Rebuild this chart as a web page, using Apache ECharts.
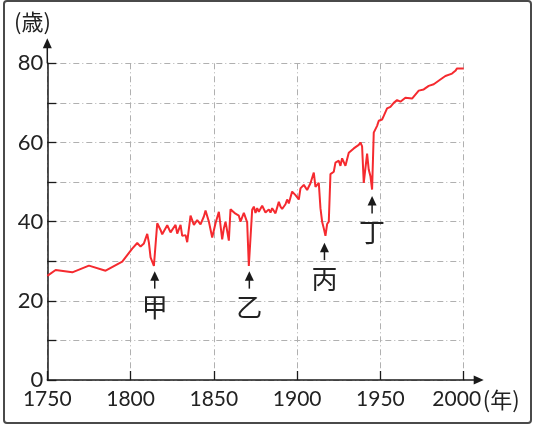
<!DOCTYPE html>
<html>
<head>
<meta charset="utf-8">
<script src="https://cdn.jsdelivr.net/npm/echarts@6/dist/echarts.min.js"></script>
<style>
html,body{margin:0;padding:0;background:#fff;}
#c{width:536px;height:426px;}
</style>
</head>
<body>
<div id="c"></div>
<script>
// ---- data ----
const years = [1750,1755,1765,1775,1785,1795,1801,1804,1806,1808,1810,1811,1812,1814,1816,1818,1819,1822,1824,1827,1828,1830,1831,1833,1834,1836,1838,1840,1842,1844,1845,1847,1849,1851,1853,1855,1856,1857,1859,1860,1863,1865,1866,1868,1870,1871,1873,1874,1875,1876,1877,1879,1881,1883,1884,1885,1887,1889,1890,1891,1893,1894,1895,1897,1899,1901,1902,1904,1906,1908,1910,1911,1913,1914,1915,1916,1917,1918,1919,1920,1922,1923,1925,1926,1927,1929,1931,1932,1934,1937,1938,1939,1940,1942,1943,1944,1945,1946,1948,1949,1951,1952,1954,1956,1958,1960,1962,1965,1969,1970,1973,1976,1979,1982,1986,1989,1993,1995,1996,2000];
const lifeExp = [26.3,27.8,27.2,28.9,27.6,29.9,33.2,34.6,33.7,34.5,36.9,34.7,31.0,28.8,39.6,37.9,36.8,39.1,37.3,39.2,37.0,39.2,36.4,36.6,34.8,41.5,39.2,40.4,39.3,41.3,42.8,40.0,36.0,39.6,42.5,35.5,38.3,40.0,35.2,43.1,42.0,41.5,40.0,42.2,39.8,28.8,43.0,43.8,42.2,43.4,42.5,44.0,42.3,43.1,42.3,43.4,42.1,45.0,43.8,43.2,44.4,45.6,44.6,47.6,46.7,45.6,48.4,49.3,48.0,49.7,52.4,48.8,49.8,43.4,40.0,38.3,36.4,39.4,40.0,52.0,52.6,54.9,55.4,54.1,56.0,54.1,57.4,57.2,58.5,59.4,60.0,59.0,49.8,57.2,53.1,51.5,48.1,62.5,64.2,65.5,65.8,66.7,68.6,69.0,70.0,70.7,70.3,71.3,71.1,70.7,73.1,73.4,74.3,74.7,75.9,76.8,77.4,78.1,78.7,78.7];
const yTickLabels = [0, 20, 40, 60, 80];
const xTickLabels = [1750, 1800, 1850, 1900, 1950, 2000];
const noteNames = ['甲', '乙', '丙', '丁'];
const noteYears = [1814.5, 1871.3, 1916.4, 1945];
const noteTips = [27.5, 27.5, 34.7, 46.5];
const yUnit = '(歳)';
const xUnit = '(年)';

const chart = echarts.init(document.getElementById('c'), null, {renderer: 'canvas'});
const axisColor = '#1a1a1a';
const gridColor = '#b0b0b0';
const numFont = 'Lato, "Liberation Sans", sans-serif';
const cjkFont = '"Noto Sans CJK JP", sans-serif';
const lastX = xTickLabels[xTickLabels.length - 1];

chart.setOption({
  backgroundColor: '#fff',
  animation: false,
  grid: {left: 47.3, right: 72.3, top: 63.3, bottom: 46, containLabel: false},
  xAxis: {
    type: 'value', min: 1750, max: 2000, interval: 50,
    axisLine: {show: true, lineStyle: {color: axisColor, width: 1.5}},
    axisTick: {show: true, inside: true, length: 9, lineStyle: {color: axisColor, width: 1.3}},
    axisLabel: {
      margin: 9, color: '#222', fontSize: 21, fontFamily: numFont,
      formatter: v => xTickLabels.indexOf(v) < 0 ? '' : (v === lastX ? '{e|' + v + '}' : String(v)),
      rich: {e: {color: '#222', fontSize: 21, fontFamily: numFont, padding: [0, 14, 0, 0]}}
    },
    splitLine: {show: true, lineStyle: {color: gridColor, width: 1, type: [6, 3, 1, 3]}}
  },
  yAxis: {
    type: 'value', min: 0, max: 80, interval: 10,
    axisLine: {show: true, lineStyle: {color: axisColor, width: 1.5}},
    axisTick: {show: true, inside: true, length: 9, lineStyle: {color: axisColor, width: 1.3}},
    axisLabel: {
      margin: 4, color: '#222', fontSize: 22, fontFamily: numFont,
      formatter: v => yTickLabels.indexOf(v) >= 0 ? String(v) : ''
    },
    splitLine: {show: true, lineStyle: {color: gridColor, width: 1, type: [6, 3, 1, 3]}}
  },
  series: [{
    type: 'line',
    data: years.map((y, i) => [y, lifeExp[i]]),
    showSymbol: false,
    lineStyle: {color: '#f52a2f', width: 2},
    z: 5
  }]
});

function drawExtras() {
  const o = chart.convertToPixel({gridIndex: 0}, [1750, 0]);
  const xEnd = chart.convertToPixel({gridIndex: 0}, [2000, 0]);
  const yEnd = chart.convertToPixel({gridIndex: 0}, [1750, 80]);
  const els = [];
  // outer frame
  els.push({type: 'rect', shape: {x: 4, y: 1, width: 527, height: 422, r: 3},
    style: {fill: 'none', stroke: '#4a4a4a', lineWidth: 2}, silent: true, z: 100});
  // x-axis extension + arrow
  els.push({type: 'line', shape: {x1: xEnd[0], y1: o[1], x2: xEnd[0] + 12, y2: o[1]},
    style: {stroke: axisColor, lineWidth: 1.5}, z: 50});
  els.push({type: 'polygon', shape: {points: [[xEnd[0] + 20, o[1]], [xEnd[0] + 10, o[1] - 4.5], [xEnd[0] + 10, o[1] + 4.5]]},
    style: {fill: axisColor}, z: 50});
  // y-axis extension + arrow
  els.push({type: 'line', shape: {x1: o[0], y1: yEnd[1], x2: o[0], y2: yEnd[1] - 16},
    style: {stroke: axisColor, lineWidth: 1.5}, z: 50});
  els.push({type: 'polygon', shape: {points: [[o[0], yEnd[1] - 25], [o[0] - 4.5, yEnd[1] - 15], [o[0] + 4.5, yEnd[1] - 15]]},
    style: {fill: axisColor}, z: 50});
  // units
  els.push({type: 'text', style: {text: yUnit, x: 14, y: 22, fill: '#222', fontSize: 22, fontFamily: cjkFont,
    verticalAlign: 'middle', align: 'left'}, z: 50});
  els.push({type: 'text', style: {text: xUnit, x: xEnd[0] + 19, y: o[1] + 20, fill: '#222', fontSize: 22, fontFamily: cjkFont,
    verticalAlign: 'middle', align: 'left'}, z: 50});
  // annotations
  noteNames.forEach((n, i) => {
    const p = chart.convertToPixel({gridIndex: 0}, [noteYears[i], noteTips[i]]);
    els.push({type: 'polygon', shape: {points: [[p[0], p[1]], [p[0] - 4.5, p[1] + 9.5], [p[0] + 4.5, p[1] + 9.5]]},
      style: {fill: '#1a1a1a'}, z: 60});
    els.push({type: 'line', shape: {x1: p[0], y1: p[1] + 9, x2: p[0], y2: p[1] + 17.5},
      style: {stroke: '#1a1a1a', lineWidth: 1.5}, z: 60});
    els.push({type: 'text', style: {text: n, x: p[0], y: p[1] + 36, fill: '#222', fontSize: 26, fontFamily: cjkFont,
      align: 'center', verticalAlign: 'middle'}, z: 60});
  });
  chart.setOption({graphic: {elements: els}});
}
drawExtras();
</script>
</body>
</html>
